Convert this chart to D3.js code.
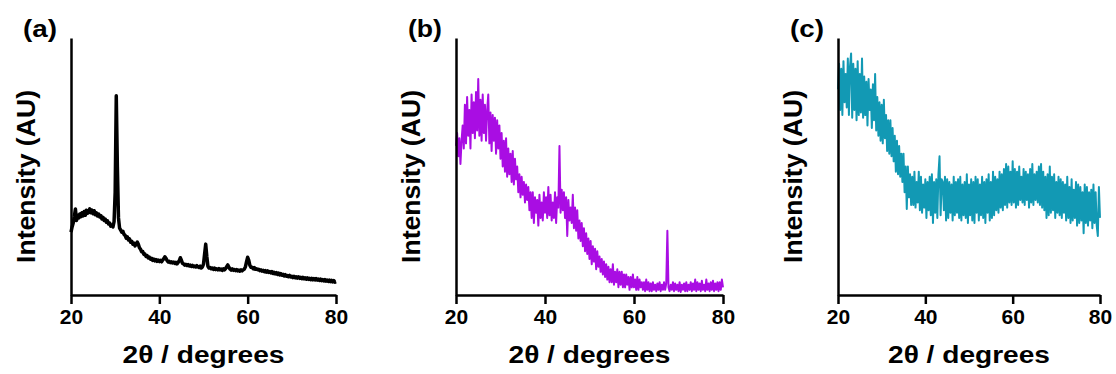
<!DOCTYPE html>
<html>
<head>
<meta charset="utf-8">
<script src="https://cdn.jsdelivr.net/npm/d3@7"></script>
<style>
  html, body { margin: 0; padding: 0; background: #fff; }
  svg { display: block; }
  text { font-family: "Liberation Sans", Arial, sans-serif; font-weight: bold; fill: #000; }
</style>
</head>
<body>
<svg id="chart" width="1116" height="374"></svg>
<script>
// ---- data (2θ grid: 20–80°, step 0.25°) ----
const angleStart = 20;
const angleStep = 0.25;
const xTicks = [20, 40, 60, 80];
const panelLabels = ["(a)", "(b)", "(c)"];
const xTitle = "2θ / degrees";
const yTitle = "Intensity (AU)";

const intensityA = [
  24.5, 26.5, 28, 30.5,  33.5, 29, 31, 30,  31.5, 30.5, 32, 30.8,  32.5, 31, 33, 31.8,
  32.2, 33.5, 32, 33,  31.6, 32.8, 31.2, 32,  30.8, 31.5, 30.4, 30.9,  29.6, 30.2, 29, 29.5,
  28.3, 28.9, 27.6, 28,  26.8, 27.2, 26.5, 28.5,  40, 77.5, 50, 30,  26, 25.3, 24.4, 24.8,
  23.6, 23.2, 22.1, 22.6,  21.4, 21.8, 20.5, 20.9,  19.8, 20.2, 19.1, 19.8,  20.6, 19.7, 18.4, 17.8,
  16.8, 16.9, 15.8, 15.9,  15, 15.3, 14.4, 14.7,  13.9, 14.3, 13.5, 14,  13.3, 13.8, 13.1, 13.6,
  13, 13.5, 12.9, 13.6,  14.1, 14.9, 14.3, 13.4,  12.8, 13.1, 12.6, 12.9,  12.5, 12.8, 12.3, 12.7,
  12.1, 12.7, 13.3, 14.5,  13.5, 12.3, 12.1, 11.6,  11.9, 11.5, 11.8, 11.3,  11.6, 11.1, 11.5, 11,
  11.3, 10.9, 11.4, 11,  10.7, 11.2, 10.5, 10.9,  12, 16, 19.8, 15,  11.2, 10.5, 10.7, 10.2,
  10.5, 10, 10.5, 9.9,  10.2, 9.8, 10.3, 9.8,  10.1, 9.6, 10.2, 9.8,  10.3, 11, 11.7, 10.8,
  10.1, 9.7, 10.2, 9.6,  9.9, 9.5, 9.9, 9.4,  9.7, 9.3, 9.8, 9.4,  9.8, 10.1, 11, 13,
  14.7, 13.5, 11.5, 10.8,  10.8, 10.2, 10.7, 10,  10.2, 9.8, 10, 9.5,  9.8, 9.3, 9.6, 9.1,
  9.5, 8.9, 9.4, 8.8,  9.1, 8.6, 9.1, 8.4,  8.8, 8.2, 8.7, 8,  8.5, 7.8, 8.3, 7.7,
  8, 7.4, 7.9, 7.3,  7.6, 7.1, 7.6, 7,  7.3, 6.8, 7.3, 6.7,  7.1, 6.6, 7.1, 6.5,
  6.9, 6.4, 6.9, 6.3,  6.7, 6.2, 6.7, 6.1,  6.5, 6, 6.5, 5.9,  6.4, 5.9, 6.4, 5.8,
  6.2, 5.7, 6.2, 5.6,  6, 5.5, 6, 5.4,  5.8, 5.3, 5.8, 5.2,  5.7, 5.1, 5.6, 5,
  5.2
];

const intensityB = [
  58, 63, 54, 61,  51, 60, 66, 57,  74, 59, 77, 62,  72, 57, 78, 63,
  75, 61, 79, 64,  84, 62, 76, 60,  78, 63, 74, 60,  72, 78, 59, 71,
  56, 70, 60, 69,  55, 68, 57, 66,  53, 63, 50, 60,  48, 61, 46, 57,
  47, 55, 44, 56,  43, 53, 45, 50,  40, 47, 38, 46,  39, 44, 36, 43,
  37, 42, 33, 40,  30, 40, 28, 38,  32, 37, 27, 39,  30, 36, 29, 40,
  32, 38, 30, 42,  31, 39, 29, 36,  30, 40, 28, 38,  34, 58, 32, 41,
  33, 40, 30, 38,  23, 37, 29, 34,  28, 39, 26, 34,  25, 33, 22, 29,
  21, 28, 19, 26,  17, 24, 16, 22,  14, 21, 12, 19,  13, 18, 10, 17,
  11, 15, 9, 14,  8, 13, 7, 12,  6, 11, 5, 10,  5, 12, 4, 9,
  5, 10, 3, 9,  4, 9, 3, 8,  3, 8, 4, 7,  2, 7, 3, 8,
  3, 6, 2, 7,  2, 6, 3, 5,  2, 5, 1.5, 6,  2, 5, 1.5, 4.5,
  1.5, 5, 2, 4,  1.5, 4.5, 2, 5,  1.5, 4, 2, 5,  2, 4.5, 25, 3,
  1.5, 4, 2, 5,  1.5, 4.5, 2, 4,  1.5, 5, 1.2, 4,  2, 4.5, 1.5, 5,
  1.5, 4, 2, 5,  1.5, 4.5, 2, 6,  1.5, 5, 2, 4.5,  1.5, 5.5, 2, 4,
  1.5, 6, 2, 4.5,  1.5, 5, 2, 5.5,  1.5, 4.5, 2, 5,  1.5, 5, 2, 6,
  3
];

const intensityC = [
  80, 90, 72, 88,  70, 91, 75, 86,  73, 92, 70, 89,  94, 69, 90, 72,
  88, 68, 91, 70,  86, 71, 92, 69,  85, 70, 83, 66,  84, 72, 80, 65,
  82, 68, 86, 64,  77, 62, 75, 60,  74, 59, 76, 61,  70, 56, 68, 55,
  68, 54, 65, 52,  62, 48, 60, 47,  58, 46, 55, 44,  55, 40, 50, 33.5,
  50, 38, 47, 35,  46, 35, 48, 34,  44, 36, 48, 33,  46, 32, 43, 34,
  45, 30, 44, 33,  46, 31, 47, 28,  44, 32, 45, 30,  47, 54, 31, 45,
  44, 33, 46, 29,  45, 30, 44, 32,  43, 29, 46, 31,  44, 32, 45, 30,
  46, 29, 43, 31,  44, 30, 47, 28,  43, 31, 45, 29,  44, 28, 46, 32,
  45, 29, 43, 31,  46, 30, 44, 28,  45, 32, 47, 29,  44, 30, 48, 31,
  46, 33, 45, 32,  48, 34, 47, 33,  49, 35, 51, 34,  50, 36, 48, 35,
  52, 36, 49, 34,  48, 35, 50, 37,  46, 36, 49, 35,  48, 37, 47, 34,
  49, 36, 51, 35,  47, 37, 48, 36,  50, 35, 51, 34,  48, 33, 46, 30,
  47, 31, 50, 32,  46, 33, 47, 30,  44, 32, 46, 31,  45, 30, 44, 32,
  43, 29, 46, 30,  42, 28, 45, 29,  41, 30, 44, 27,  43, 28, 42, 29,
  40, 24, 43, 28,  42, 27, 40, 29,  41, 26, 43, 28,  40, 27, 23, 42,
  30
];

const series = [intensityA, intensityB, intensityC];
const colors = ["#000000", "#A90DE3", "#1299B4"];

// ---- layout ----
const panels = [
  { left: 71,  right: 336, stroke: 3.5 },
  { left: 456, right: 723, stroke: 2 },
  { left: 838, right: 1100, stroke: 2 }
];
const plotTop = 38, plotBottom = 295;

const svg = d3.select("#chart");

panels.forEach((p, i) => {
  const vals = series[i];
  const data = vals.map((v, k) => ({ x: angleStart + k * angleStep, y: v }));
  const x = d3.scaleLinear().domain([20, 80]).range([p.left, p.right]);
  const y = d3.scaleLinear().domain([0, 100]).range([plotBottom, plotTop]);
  const g = svg.append("g");

  // data line
  g.append("path")
    .datum(data)
    .attr("fill", "none")
    .attr("stroke", colors[i])
    .attr("stroke-width", p.stroke)
    .attr("stroke-linejoin", "round")
    .attr("d", d3.line().x(d => x(d.x)).y(d => y(d.y)));

  // x axis
  const xa = g.append("g")
    .attr("transform", `translate(0,${plotBottom})`)
    .call(d3.axisBottom(x).tickValues(xTicks).tickSize(9).tickSizeOuter(0).tickPadding(5));
  xa.select(".domain").attr("stroke", "#000").attr("stroke-width", 2.5);
  xa.selectAll(".tick line").attr("stroke", "#000").attr("stroke-width", 2.5);
  xa.selectAll(".tick text")
    .attr("font-size", 21)
    .attr("font-family", "Liberation Sans, Arial, sans-serif")
    .attr("font-weight", "bold")
    .attr("fill", "#000");

  // y axis (line only)
  const ya = g.append("g")
    .attr("transform", `translate(${p.left},0)`)
    .call(d3.axisLeft(y).tickValues([]).tickSizeOuter(0));
  ya.select(".domain").attr("stroke", "#000").attr("stroke-width", 2.5);

  // x title
  g.append("text")
    .attr("x", (p.left + p.right) / 2)
    .attr("y", 363)
    .attr("text-anchor", "middle")
    .attr("font-size", 23)
    .attr("textLength", 162)
    .attr("lengthAdjust", "spacingAndGlyphs")
    .text(xTitle);

  // y title
  g.append("text")
    .attr("transform", `translate(${p.left - 36},${176.5}) rotate(-90)`)
    .attr("text-anchor", "middle")
    .attr("font-size", 25)
    .attr("textLength", 173)
    .attr("lengthAdjust", "spacingAndGlyphs")
    .text(yTitle);

  // panel label
  g.append("text")
    .attr("x", p.left - 48)
    .attr("y", 37)
    .attr("font-size", 24)
    .attr("textLength", 34)
    .attr("lengthAdjust", "spacingAndGlyphs")
    .text(panelLabels[i]);
});
</script>
</body>
</html>
